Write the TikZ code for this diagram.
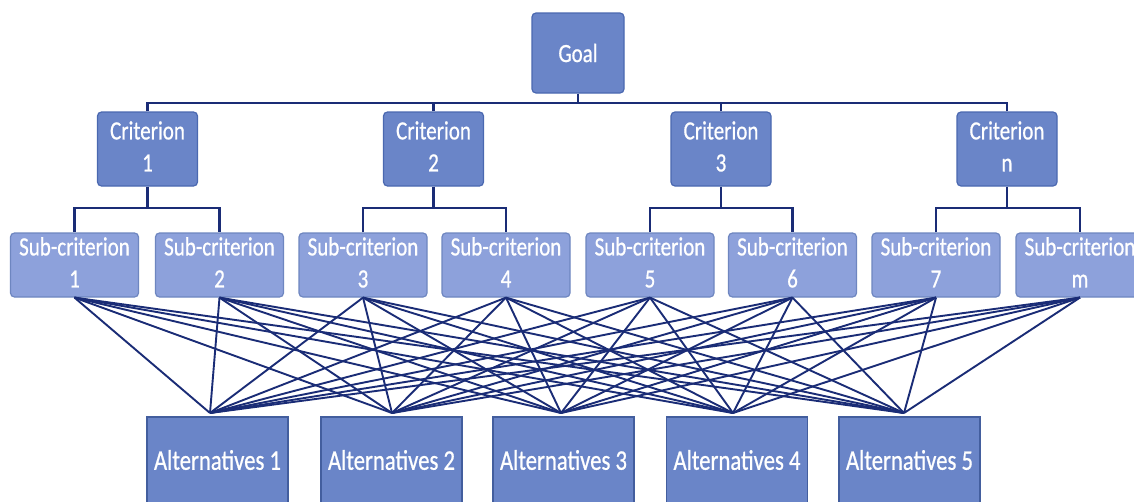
\documentclass[tikz,border=0pt]{standalone}
\usepackage{fontspec}
\setmainfont{Carlito}[FakeBold=0.6]
\newfontfamily\boxfont{Carlito}[RawFeature={embolden=0.8}]
\usepackage{graphicx}
\definecolor{boxfill}{HTML}{6A85C8}
\definecolor{subfill}{HTML}{8DA1DB}
\definecolor{boxline}{HTML}{4A68B0}
\definecolor{linkcol}{HTML}{1A2C76}
\newcommand\twoline[2]{\scalebox{1}[1.25]{\boxfont\fontsize{21}{25.6}\selectfont\begin{tabular}{@{}c@{}}#1\\#2\end{tabular}}}
\newcommand\oneline[2]{\scalebox{1}[1.25]{\boxfont\fontsize{#1}{#1}\selectfont #2}}
\tikzset{
  goalbox/.style={draw=boxline, fill=boxfill, line width=1.2pt, rounded corners=4pt,
    minimum width=92pt, minimum height=80pt, inner sep=0pt, text=white},
  critbox/.style={draw=boxline, fill=boxfill, line width=1.2pt, rounded corners=4pt,
    minimum width=100pt, minimum height=74pt, inner sep=0pt, text=white},
  subbox/.style={draw=boxline!80, fill=subfill, line width=1.2pt, rounded corners=4pt,
    minimum width=128pt, minimum height=64pt, inner sep=0pt, text=white},
  altbox/.style={draw=boxline!90!black, fill=boxfill, line width=1.5pt,
    minimum width=141pt, minimum height=88pt, inner sep=0pt, text=white, anchor=north},
  bus/.style={draw=linkcol, line width=2.5pt},
  mesh/.style={draw=linkcol, line width=1.9pt},
}
\begin{document}
\begin{tikzpicture}[x=1pt,y=-1pt]
\clip (0,0) rectangle (1134,501);
\fill[white] (0,0) rectangle (1134,501);

% goal
\node[goalbox] (goal) at (578,53) {\oneline{21}{Goal}};

% criteria
\node[critbox] (c1) at (147.5,149) {\twoline{Criterion}{1}};
\node[critbox] (c2) at (433.5,149) {\twoline{Criterion}{2}};
\node[critbox] (c3) at (721,149) {\twoline{Criterion}{3}};
\node[critbox] (c4) at (1007,149) {\twoline{Criterion}{n}};

% sub-criteria
\node[subbox] (s1) at (74.5,265) {\twoline{Sub-criterion}{1}};
\node[subbox] (s2) at (219.5,265) {\twoline{Sub-criterion}{2}};
\node[subbox] (s3) at (363,265) {\twoline{Sub-criterion}{3}};
\node[subbox] (s4) at (506,265) {\twoline{Sub-criterion}{4}};
\node[subbox] (s5) at (650,265) {\twoline{Sub-criterion}{5}};
\node[subbox] (s6) at (792.5,265) {\twoline{Sub-criterion}{6}};
\node[subbox] (s7) at (936,265) {\twoline{Sub-criterion}{7}};
\node[subbox] (s8) at (1080,265) {\twoline{Sub-criterion}{m}};

% alternatives
\node[altbox] (a1) at (217.5,416) {};
\node[altbox] (a2) at (391.5,416) {};
\node[altbox] (a3) at (563.5,416) {};
\node[altbox] (a4) at (737,416) {};
\node[altbox] (a5) at (909.5,416) {};
\node (t1) at (217.5,460) [text=white] {\oneline{22.7}{Alternatives 1}};
\node (t2) at (391.5,460) [text=white] {\oneline{22.7}{Alternatives 2}};
\node (t3) at (563.5,460) [text=white] {\oneline{22.7}{Alternatives 3}};
\node (t4) at (737,460) [text=white] {\oneline{22.7}{Alternatives 4}};
\node (t5) at (909.5,460) [text=white] {\oneline{22.7}{Alternatives 5}};

% bus from goal to criteria
\coordinate (gbus) at (578,103);
\draw[bus] (goal.south) -- (gbus);
\foreach \c in {c1,c2,c3,c4} {\draw[bus] (\c.north) |- (gbus);}

% buses from criteria to sub-criteria
\coordinate (b1) at (147.5,208);
\coordinate (b2) at (433.5,208);
\coordinate (b3) at (721,208);
\coordinate (b4) at (1007,208);
\draw[bus] (c1.south) -- (b1);
\draw[bus] (c2.south) -- (b2);
\draw[bus] (c3.south) -- (b3);
\draw[bus] (c4.south) -- (b4);
\draw[bus] (s1.north) |- (b1) -| (s2.north);
\draw[bus] (s3.north) |- (b2) -| (s4.north);
\draw[bus] (s5.north) |- (b3) -| (s6.north);
\draw[bus] (s7.north) |- (b4) -| (s8.north);

% apex points on top of alternatives
\coordinate (p1) at (210,413);
\coordinate (p2) at (392,413);
\coordinate (p3) at (561,413);
\coordinate (p4) at (733,413);
\coordinate (p5) at (904,413);

\foreach \s in {s1,s2,s3,s4,s5,s6,s7,s8} {
  \foreach \p in {p1,p2,p3,p4,p5} {
    \draw[mesh] (\s.south) -- (\p);
  }
}
\end{tikzpicture}
\end{document}
